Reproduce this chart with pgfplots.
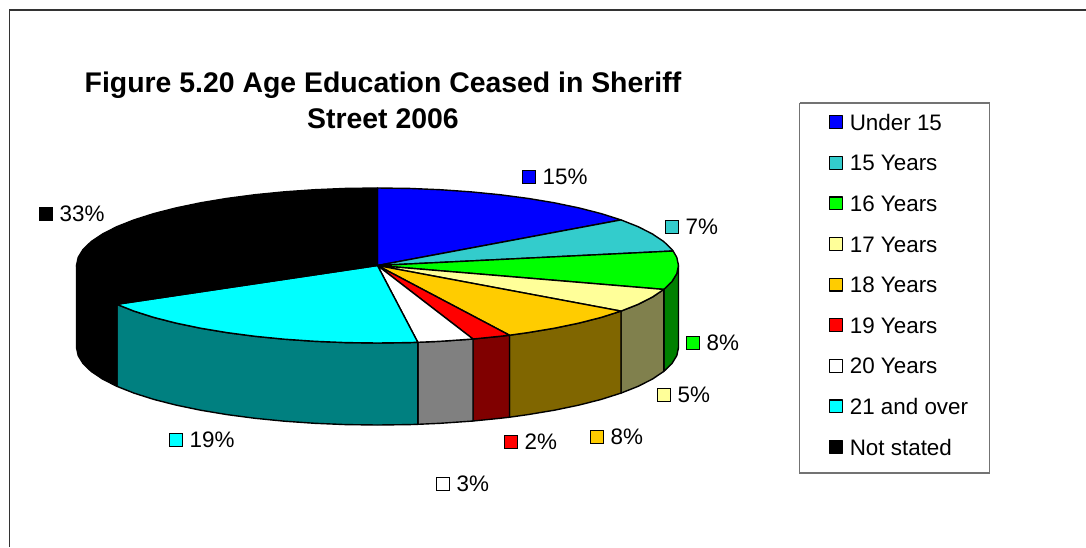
\documentclass[border=0pt]{standalone}
\usepackage{pgfplots}
\pgfplotsset{compat=1.18}
\usepackage{fontspec}
\setmainfont{Liberation Sans}
\definecolor{c15}{RGB}{0,0,255}
\definecolor{c16}{RGB}{51,204,204}
\definecolor{c17}{RGB}{0,255,0}
\definecolor{c18}{RGB}{255,255,153}
\definecolor{c19}{RGB}{255,204,0}
\definecolor{c20}{RGB}{255,0,0}
\definecolor{c21}{RGB}{255,255,255}
\definecolor{c22}{RGB}{0,255,255}
\definecolor{c23}{RGB}{0,0,0}
\definecolor{w17}{RGB}{0,128,0}
\definecolor{w18}{RGB}{128,128,77}
\definecolor{w19}{RGB}{128,102,0}
\definecolor{w20}{RGB}{128,0,0}
\definecolor{w21}{RGB}{128,128,128}
\definecolor{w22}{RGB}{0,128,128}
\pgfplotsset{
  slice/.style={draw=black,line width=1.4pt,line join=round},
  lab/.style={forget plot,only marks,mark=square*,mark size=6.4pt,
    mark options={draw=black,line width=1.1pt,fill=#1}},
}
\newcommand{\lbl}[1]{node[anchor=west,inner sep=0pt,xshift=13.4pt,text depth=0pt,font=\fontsize{22.4}{26}\selectfont]{#1}}
\begin{document}
\begin{tikzpicture}
\begin{axis}[
  hide axis, scale only axis, width=1086pt, height=547pt,
  xmin=0, xmax=1086, ymin=0, ymax=547, y dir=reverse,
  legend image code/.code={\draw[#1,line width=1.1pt] (0pt,-6.4pt) rectangle (12.8pt,6.4pt);},
  legend cell align=left,
  legend style={draw=none,fill=none,at={(axis cs:828.7,114)},anchor=north west,inner sep=0pt,
    font=\fontsize{22.4}{26}\selectfont,
    nodes={inner sep=0pt,text height=16pt,text depth=0pt},
    row sep=24.6pt,column sep=7pt},
]
% outer frame and legend box
\addplot[forget plot,draw=black!80,line width=1.6pt] coordinates {(9.5,547) (9.5,10) (1086,10)};
\addplot[forget plot,draw=black!55,line width=1.2pt] coordinates {(799.5,103) (989.5,103) (989.5,473) (799.5,473) (799.5,103)};

% outer walls of the pie, front half
\addplot[forget plot,slice,fill=w17] coordinates {(678.5,265.5) (676.8,273.6) (671.9,281.6) (663.8,289.4) (663.8,371.4) (671.9,363.6) (676.8,355.6) (678.5,347.5) (678.5,265.5)};
\addplot[forget plot,slice,fill=w18] coordinates {(663.8,289.4) (652.5,297) (638.2,304.3) (621,311.1) (621,393.1) (638.2,386.3) (652.5,379) (663.8,371.4) (663.8,289.4)};
\addplot[forget plot,slice,fill=w19] coordinates {(621,311.1) (601.2,317.4) (578.9,323.1) (554.4,328.2) (528,332.6) (509.5,335.2) (509.5,417.2) (528,414.6) (554.4,410.2) (578.9,405.1) (601.2,399.4) (621,393.1) (621,311.1)};
\addplot[forget plot,slice,fill=w20] coordinates {(509.5,335.2) (499.9,336.3) (473,339) (473,421) (499.9,418.3) (509.5,417.2) (509.5,335.2)};
\addplot[forget plot,slice,fill=w21] coordinates {(473,339) (470.5,339.2) (440.1,341.3) (417.8,342.3) (417.8,424.3) (440.1,423.3) (470.5,421.2) (473,421) (473,339)};
\addplot[forget plot,slice,fill=w22] coordinates {(417.8,342.3) (409,342.6) (377.5,343) (346,342.6) (314.9,341.3) (284.5,339.2) (255.1,336.3) (227,332.6) (200.6,328.2) (176.1,323.1) (153.8,317.4) (134,311.1) (116.8,304.3) (116.8,386.3) (134,393.1) (153.8,399.4) (176.1,405.1) (200.6,410.2) (227,414.6) (255.1,418.3) (284.5,421.2) (314.9,423.3) (346,424.6) (377.5,425) (409,424.6) (417.8,424.3) (417.8,342.3)};
\addplot[forget plot,slice,fill=black] coordinates {(116.8,304.3) (102.5,297) (91.2,289.4) (83.1,281.6) (78.2,273.6) (76.5,265.5) (76.5,347.5) (78.2,355.6) (83.1,363.6) (91.2,371.4) (102.5,379) (116.8,386.3) (116.8,304.3)};

% top faces of the slices, clockwise from twelve o'clock
\addplot[slice,fill=c15] coordinates {(377.5,265.5) (377.5,188) (409,188.4) (440.1,189.7) (470.5,191.8) (499.9,194.7) (528,198.4) (554.4,202.8) (578.9,207.9) (601.2,213.6) (621,219.9) (377.5,265.5)};
\addlegendentry{Under 15}
\addplot[slice,fill=c16] coordinates {(377.5,265.5) (621,219.9) (638.2,226.7) (652.5,234) (663.8,241.6) (671.9,249.4) (673.1,251) (377.5,265.5)};
\addlegendentry{15 Years}
\addplot[slice,fill=c17] coordinates {(377.5,265.5) (673.1,251) (676.8,257.4) (678.5,265.5) (676.8,273.6) (671.9,281.6) (663.8,289.4) (377.5,265.5)};
\addlegendentry{16 Years}
\addplot[slice,fill=c18] coordinates {(377.5,265.5) (663.8,289.4) (652.5,297) (638.2,304.3) (621,311.1) (377.5,265.5)};
\addlegendentry{17 Years}
\addplot[slice,fill=c19] coordinates {(377.5,265.5) (621,311.1) (601.2,317.4) (578.9,323.1) (554.4,328.2) (528,332.6) (509.5,335.2) (377.5,265.5)};
\addlegendentry{18 Years}
\addplot[slice,fill=c20] coordinates {(377.5,265.5) (509.5,335.2) (499.9,336.3) (473,339) (377.5,265.5)};
\addlegendentry{19 Years}
\addplot[slice,fill=c21] coordinates {(377.5,265.5) (473,339) (470.5,339.2) (440.1,341.3) (417.8,342.3) (377.5,265.5)};
\addlegendentry{20 Years}
\addplot[slice,fill=c22] coordinates {(377.5,265.5) (417.8,342.3) (409,342.6) (377.5,343) (346,342.6) (314.9,341.3) (284.5,339.2) (255.1,336.3) (227,332.6) (200.6,328.2) (176.1,323.1) (153.8,317.4) (134,311.1) (116.8,304.3) (377.5,265.5)};
\addlegendentry{21 and over}
\addplot[slice,fill=c23] coordinates {(377.5,265.5) (116.8,304.3) (102.5,297) (91.2,289.4) (83.1,281.6) (78.2,273.6) (76.5,265.5) (78.2,257.4) (83.1,249.4) (91.2,241.6) (102.5,234) (116.8,226.7) (134,219.9) (153.8,213.6) (176.1,207.9) (200.6,202.8) (227,198.4) (255.1,194.7) (284.5,191.8) (314.9,189.7) (346,188.4) (377.5,188) (377.5,265.5)};
\addlegendentry{Not stated}

% percentage labels with their colour keys
\addplot[lab=c15] coordinates {(529,177)} \lbl{15\%};
\addplot[lab=c16] coordinates {(672,227)} \lbl{7\%};
\addplot[lab=c17] coordinates {(693,343)} \lbl{8\%};
\addplot[lab=c18] coordinates {(664,395)} \lbl{5\%};
\addplot[lab=c19] coordinates {(597,437)} \lbl{8\%};
\addplot[lab=c20] coordinates {(511,442)} \lbl{2\%};
\addplot[lab=c21] coordinates {(443,484)} \lbl{3\%};
\addplot[lab=c22] coordinates {(176,440)} \lbl{19\%};
\addplot[lab=c23] coordinates {(46,214)} \lbl{33\%};

\node[align=center,inner sep=0pt,font=\bfseries\fontsize{28.4}{36}\selectfont] at (axis cs:383,100.5)
  {Figure 5.20 Age Education Ceased in Sheriff\\Street 2006};
\end{axis}
% the page is exactly the plot area
\pgfresetboundingbox
\path[use as bounding box] (current axis.south west) rectangle (current axis.north east);
\end{tikzpicture}
\end{document}
